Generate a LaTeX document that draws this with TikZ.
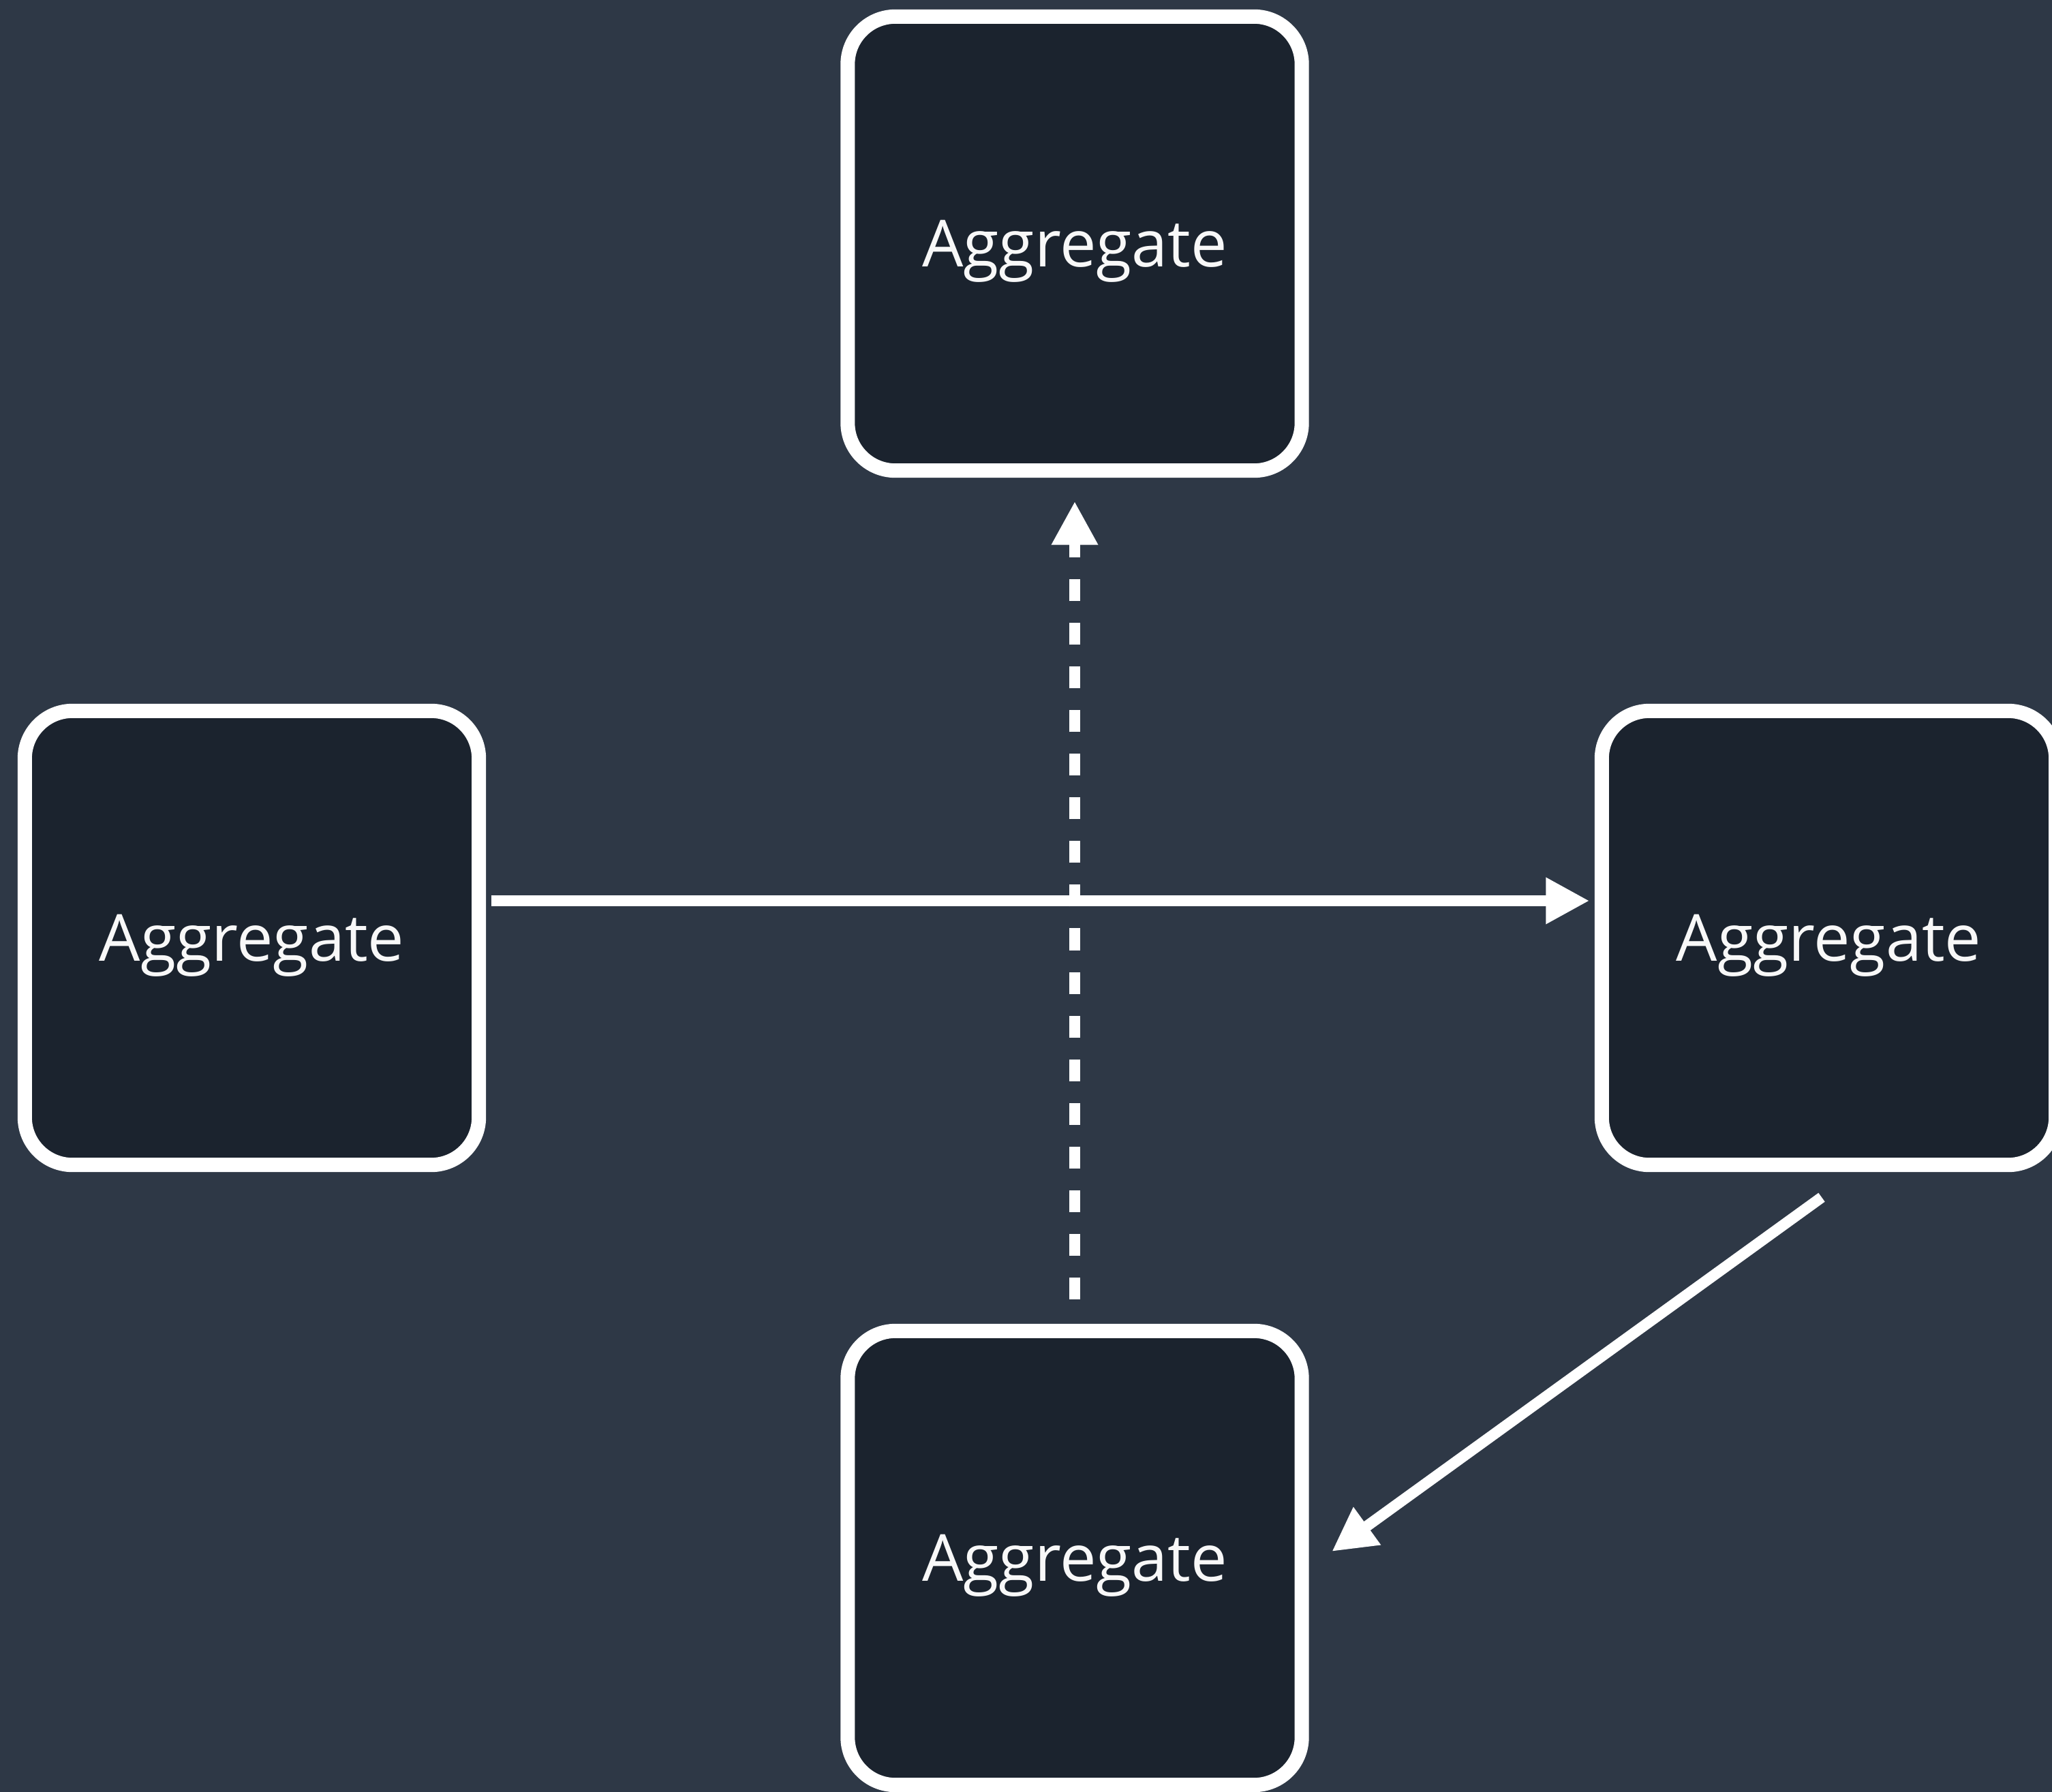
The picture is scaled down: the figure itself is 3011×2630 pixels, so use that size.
\documentclass[tikz,border=0pt]{standalone}
\usepackage{fontspec}
\setmainfont{Open Sans}
\usetikzlibrary{arrows.meta}

\definecolor{canvas}{HTML}{2E3846}
\definecolor{boxfill}{HTML}{1B232E}
\definecolor{ink}{HTML}{F8F8F8}

\tikzset{
  aggbox/.style={draw=white, fill=boxfill, line width=0.21cm,
    rounded corners=0.7cm, minimum width=6.66cm, minimum height=6.66cm,
    inner sep=0pt, outer sep=0pt, text=ink, text depth=-0.1cm,
    font=\fontsize{27.1pt}{33pt}\selectfont},
  flow/.style={draw=white, line width=0.16cm,
    -{Triangle[length=0.64cm, width=0.64cm]}},
  flowdash/.style={flow, dash pattern=on 0.32cm off 0.32cm}
}

\begin{document}
\begin{tikzpicture}[x=0.01cm, y=-0.01cm]
  % page area and backdrop
  \useasboundingbox (0,0) rectangle (3011,2630);
  \fill[canvas] (0,0) rectangle (3011,2630);
  \clip (0,0) rectangle (3011,2630);

  % the four aggregates
  \node[aggbox] (top)    at (1577,357.5)  {Aggregate};
  \node[aggbox] (left)   at (369.5,1376.5) {Aggregate};
  \node[aggbox] (right)  at (2683.5,1376.5) {Aggregate};
  \node[aggbox] (bottom) at (1577,2286.5) {Aggregate};

  % connectors
  \draw[flow] ([shift={(18,-54.5)}]left.east) -- ([shift={(-18,-54.5)}]right.west);
  \draw[flowdash] ([shift={(0,-46.5)}]bottom.north) -- ([shift={(0,45)}]top.south);
  \draw[flow] ([shift={(-10.5,47.5)}]right.south) -- ([shift={(44,-9.5)}]bottom.east);
\end{tikzpicture}
\end{document}
